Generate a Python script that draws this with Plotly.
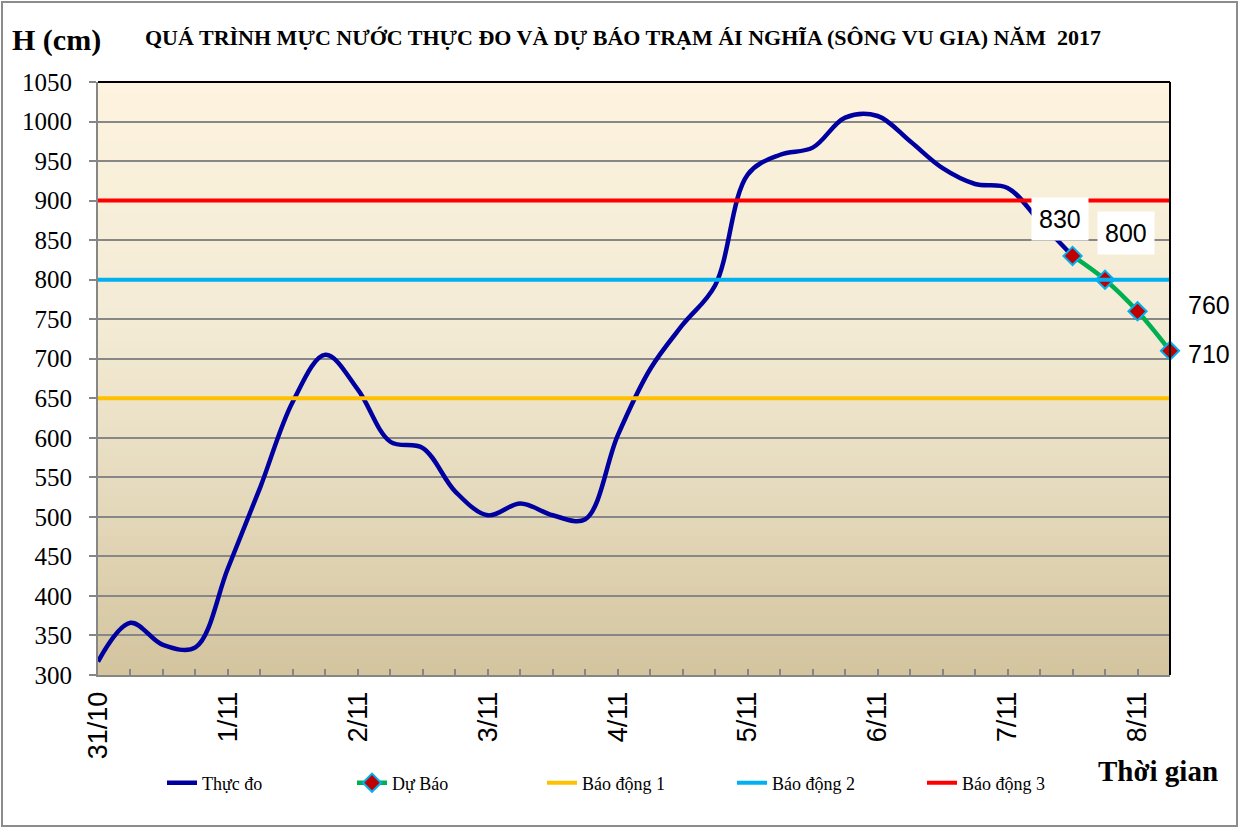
import plotly.graph_objects as go

# ---------------- data ----------------
date_labels = ["31/10", "1/11", "2/11", "3/11", "4/11", "5/11", "6/11", "7/11", "8/11"]
steps_per_day = 4           # observations every 6 hours
n_steps = 34                # 31/10 .. 8/11 (+6h)

thuc_do = [317, 366, 338, 335, 435, 538, 646, 705, 661, 595, 587, 532, 502, 517,
           502, 497, 603, 687, 743, 793, 933, 958, 967, 1005, 1007, 975, 941, 921,
           916, 873, 830]
du_bao = [830, 800, 760, 710]
bao_dong_1 = 650
bao_dong_2 = 800
bao_dong_3 = 900

# ---------------- layout helpers ----------------
W, H = 1240, 833
L, R, T, B = 98, 70, 82, 158
PW, PH = W - L - R, H - T - B


def px(x):
    return (x - L) / PW


def py(y):
    return (H - B - y) / PH


x_obs = list(range(len(thuc_do)))
x_fc = list(range(len(thuc_do) - 1, len(thuc_do) - 1 + len(du_bao)))
x_all = [0, n_steps - 1]

fig = go.Figure()
fig.add_trace(go.Scatter(x=x_obs, y=thuc_do, mode="lines", name="Thực đo",
                         line=dict(color="#0000A0", width=4.5, shape="spline", smoothing=1)))
fig.add_trace(go.Scatter(x=x_fc, y=du_bao, mode="lines+markers", name="Dự Báo", cliponaxis=False,
                         line=dict(color="#00B050", width=4.5, shape="spline", smoothing=1),
                         marker=dict(symbol="diamond", size=14, color="#C00000",
                                     line=dict(color="#00B0F0", width=2))))
fig.add_trace(go.Scatter(x=x_all, y=[bao_dong_1] * 2, mode="lines", name="Báo động 1",
                         line=dict(color="#FFC000", width=4)))
fig.add_trace(go.Scatter(x=x_all, y=[bao_dong_2] * 2, mode="lines", name="Báo động 2",
                         line=dict(color="#00B0F0", width=4)))
fig.add_trace(go.Scatter(x=x_all, y=[bao_dong_3] * 2, mode="lines", name="Báo động 3",
                         line=dict(color="#FF0000", width=4)))

# gradient plot background
stops = [(0.0, (211, 196, 158)), (0.3, (229, 218, 188)), (0.6, (243, 235, 213)), (1.0, (253, 243, 222))]


def grad(t):
    for (t0, c0), (t1, c1) in zip(stops[:-1], stops[1:]):
        if t <= t1:
            f = (t - t0) / (t1 - t0)
            return "rgb(%d,%d,%d)" % tuple(round(a + (b - a) * f) for a, b in zip(c0, c1))
    return "rgb(%d,%d,%d)" % stops[-1][1]


shapes = []
NB = 60
for k in range(NB):
    shapes.append(dict(type="rect", xref="x domain", yref="y domain", x0=0, x1=1,
                       y0=k / NB, y1=(k + 1) / NB + 0.002, line=dict(width=0),
                       fillcolor=grad((k + 0.5) / NB), layer="below"))
# black top and right borders of plot area
shapes.append(dict(type="line", xref="x domain", yref="y domain", x0=0, x1=1, y0=1, y1=1,
                   line=dict(color="black", width=2)))
shapes.append(dict(type="line", xref="x domain", yref="y domain", x0=1, x1=1, y0=0, y1=1,
                   line=dict(color="black", width=2)))
# outer frame
shapes.append(dict(type="rect", xref="paper", yref="paper", x0=px(2), x1=px(1237),
                   y0=py(826), y1=py(2), line=dict(color="#8C8C8C", width=2)))

tickvals = list(range(n_steps - 1))
ticktext = [date_labels[i // steps_per_day] if i % steps_per_day == 0 else "" for i in tickvals]

annotations = [
    dict(text="<b>QUÁ TRÌNH MỰC NƯỚC THỰC ĐO VÀ DỰ BÁO TRẠM ÁI NGHĨA (SÔNG VU GIA) NĂM  2017</b>",
         xref="paper", yref="paper", x=px(623), y=py(38), showarrow=False,
         xanchor="center", yanchor="middle",
         font=dict(family="Liberation Serif", size=22, color="black")),
    dict(text="<b>H (cm)</b>", xref="paper", yref="paper", x=px(56), y=py(40), showarrow=False,
         xanchor="center", yanchor="middle",
         font=dict(family="Liberation Serif", size=30, color="black")),
    dict(text="<b>Thời gian</b>", xref="paper", yref="paper", x=px(1158), y=py(771), showarrow=False,
         xanchor="center", yanchor="middle",
         font=dict(family="Liberation Serif", size=29, color="black")),
]
label_offsets = [(-13, 37, "white"), (21, 47, "white"), (71, 6, "rgba(0,0,0,0)"), (39, -3, "rgba(0,0,0,0)")]
for xi, v, (dx, dy, bg) in zip(x_fc, du_bao, label_offsets):
    annotations.append(dict(x=xi, y=v, text=str(v), showarrow=False, xshift=dx, yshift=dy,
                            bgcolor=bg, borderpad=7, xanchor="center", yanchor="middle",
                            font=dict(family="Liberation Sans", size=25, color="black")))

fig.update_layout(
    width=W, height=H, margin=dict(l=L, r=R, t=T, b=B),
    paper_bgcolor="white", plot_bgcolor="#FDF3DE",
    shapes=shapes, annotations=annotations,
    showlegend=True,
    legend=dict(orientation="h", x=px(162), y=py(783), xanchor="left", yanchor="middle",
                font=dict(family="Liberation Serif", size=18, color="black"),
                entrywidth=145, bgcolor="rgba(0,0,0,0)"),
    xaxis=dict(range=[0, n_steps - 1], tickmode="array", tickvals=tickvals, ticktext=ticktext,
               tickangle=-90, ticks="inside", ticklen=6, tickcolor="#868686", tickwidth=1.5,
               showgrid=False, zeroline=False, showline=True, linecolor="#868686", linewidth=2,
               tickfont=dict(family="Liberation Sans", size=27, color="black"),
               ticklabelstandoff=4),
    yaxis=dict(range=[300, 1050], dtick=50, tick0=300, ticks="outside", ticklen=7,
               tickcolor="#868686", tickwidth=1.5, showgrid=True, gridcolor="#878787", gridwidth=1.5,
               zeroline=False, showline=True, linecolor="#868686", linewidth=2,
               tickfont=dict(family="Liberation Serif", size=25, color="black"),
               ticklabelstandoff=12),
)

fig.write_html("out.html", config={"displayModeBar": False},
               post_script="document.body.style.margin='0';")
